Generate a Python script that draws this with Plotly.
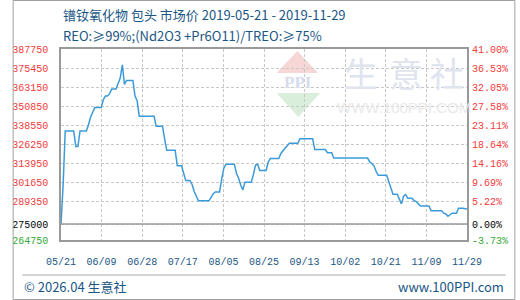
import pandas as pd
import plotly.graph_objects as go

# ---------------- data ----------------
START_DATE = "2019-05-21"
END_DATE = "2019-11-29"
DAY_OFFSETS = [0, 1, 2, 6, 7, 8, 9, 12, 13, 14, 15, 16, 19, 20, 21, 22, 23, 24, 26, 27,
               28, 29, 30, 31, 34, 35, 36, 37, 44, 45, 48, 49, 50, 54, 55, 57, 58, 59, 61, 62,
               63, 64, 65, 70, 71, 72, 73, 75, 76, 77, 78, 82, 83, 84, 85, 86, 87, 90, 91, 92,
               93, 94, 97, 98, 99, 103, 104, 105, 106, 107, 108, 112, 113, 119, 120, 125, 126, 128, 129, 145,
               146, 147, 148, 149, 150, 154, 155, 156, 157, 159, 160, 161, 162, 163, 164, 166, 167, 168, 169, 170,
               174, 175, 180, 181, 182, 183, 184, 185, 187, 188, 190, 191, 192]
PRICES = [275000, 300000, 335000, 335000, 325000, 325000, 335000, 335000, 339000, 344000,
          347000, 350000, 350000, 355000, 357500, 357500, 359000, 362000, 362000, 366000,
          369000, 377500, 365000, 367500, 367500, 357500, 354500, 344500, 344500, 338000,
          338000, 330000, 322500, 322500, 312500, 312500, 307500, 303000, 303000, 300500,
          296000, 292700, 290000, 290000, 292700, 294500, 295700, 295700, 304000, 311000,
          313500, 313500, 307500, 304500, 300000, 297000, 302000, 302000, 307000, 313000,
          313500, 309500, 309500, 315000, 317200, 317200, 320500, 322500, 324000, 325500,
          327000, 327000, 330000, 330000, 323000, 323000, 321000, 321000, 317500, 317500,
          315000, 314000, 312500, 309000, 306500, 306500, 302500, 298000, 294250, 294250,
          291000, 288000, 293000, 294000, 291600, 291600, 290000, 289500, 288000, 286700,
          286700, 283650, 283650, 282000, 281500, 280000, 281000, 282000, 282000, 285200,
          285200, 284750, 284750]

BASE_PRICE = 275000
Y_TICKS = [264750, 275000, 289350, 301650, 313950, 326250, 338550, 350850, 363150, 375450, 387750]
Y_LABELS = ["264750", "275000", "289350", "301650", "313950", "326250", "338550",
            "350850", "363150", "375450", "387750"]
PCT_LABELS = ["-3.73%", "0.00%", "5.22%", "9.69%", "14.16%", "18.64%", "23.11%",
              "27.58%", "32.05%", "36.53%", "41.00%"]
X_LABELS = ["05/21", "06/09", "06/28", "07/17", "08/05", "08/25", "09/13",
            "10/02", "10/21", "11/09", "11/29"]

TITLE = "镨钕氧化物 包头 市场价 2019-05-21 - 2019-11-29"
SUBTITLE = "REO:≥99%;(Nd2O3 +Pr6O11)/TREO:≥75%"
FOOT_LEFT = "© 2026.04 生意社"
FOOT_RIGHT = "www.100PPI.com"

# ---------------- styling ----------------
W, H = 520, 300
PL, PR, PT, PB = 50, 470, 49, 240   # plot area in pixels
RED, GREEN, BLACK = "#f23a3a", "#33aa33", "#000000"
BLUE_TXT = "#1a5685"
LINE_C = "#3b9bd8"
TICK_FONT = dict(family="Liberation Mono, DejaVu Sans Mono, monospace", size=10)
CN_FONT = "Noto Sans CJK SC, Noto Sans, sans-serif"


def fx(px):
    return (px - PL) / (PR - PL)


def fy(py):
    return (PB - py) / (PB - PT)


def colored(label, i):
    c = GREEN if i == 0 else (BLACK if i == 1 else RED)
    return f'<span style="color:{c}">{label}</span>'


start = pd.Timestamp(START_DATE)
end = pd.Timestamp(END_DATE)
dates = [start + pd.Timedelta(days=d) for d in DAY_OFFSETS]
span = end - start
x_ticks = [start + span * i / (len(X_LABELS) - 1) for i in range(len(X_LABELS))]

fig = go.Figure()
fig.add_trace(go.Scatter(x=dates, y=PRICES, mode="lines",
                         line=dict(color=LINE_C, width=1.5), hoverinfo="skip",
                         showlegend=False))
fig.add_trace(go.Scatter(x=[dates[0]], y=[PRICES[0]], yaxis="y2", mode="markers",
                         marker=dict(opacity=0), hoverinfo="skip", showlegend=False))

grid = dict(showgrid=True, gridcolor="#c8c8c8", gridwidth=1, griddash="3px,2px")

fig.update_layout(
    width=W, height=H,
    margin=dict(l=PL, r=W - PR, t=PT, b=H - PB),
    paper_bgcolor="white", plot_bgcolor="white",
    xaxis=dict(type="date", range=[start, end], tickvals=x_ticks, ticktext=X_LABELS,
               tickfont=dict(color=BLUE_TXT, **TICK_FONT), ticks="",
               ticklabelstandoff=11, zeroline=False,
               showline=True, linecolor="#999999", linewidth=1.5, mirror=True, **grid),
    yaxis=dict(range=[Y_TICKS[0], Y_TICKS[-1]], tickvals=Y_TICKS,
               ticktext=[colored(l, i) for i, l in enumerate(Y_LABELS)],
               tickfont=TICK_FONT, ticks="", ticklabelstandoff=9, zeroline=False,
               showline=True, linecolor="#999999", linewidth=1.5, mirror=True, **grid),
    yaxis2=dict(range=[Y_TICKS[0], Y_TICKS[-1]], overlaying="y", side="right",
                tickvals=Y_TICKS, ticktext=[colored(l, i) for i, l in enumerate(PCT_LABELS)],
                tickfont=TICK_FONT, ticks="", ticklabelstandoff=4, showgrid=False,
                zeroline=False, showline=False),
)

shapes = [
    # base-price solid line
    dict(type="line", xref="paper", yref="y", x0=0, x1=1, y0=BASE_PRICE, y1=BASE_PRICE,
         line=dict(color="#9a9a9a", width=1.5)),
    # outer frame
    dict(type="rect", xref="paper", yref="paper", x0=fx(0.5), x1=fx(W - 0.5),
         y0=fy(H - 0.5), y1=fy(0.5), line=dict(color="#a0a0a0", width=1)),
    # footer separator
    dict(type="line", xref="paper", yref="paper", x0=fx(10), x1=fx(510), y0=fy(275), y1=fy(275),
         line=dict(color="#a8a8a8", width=1)),
    # watermark logo triangles
    dict(type="path", xref="paper", yref="paper", layer="below",
         path=f"M {fx(273)} {fy(73)} L {fx(316)} {fy(73)} L {fx(294.5)} {fy(51)} Z",
         fillcolor="#f7d6d6", line=dict(width=0)),
    dict(type="path", xref="paper", yref="paper", layer="below",
         path=f"M {fx(273)} {fy(93)} L {fx(318)} {fy(93)} L {fx(295.5)} {fy(117)} Z",
         fillcolor="#d9eedb", line=dict(width=0)),
]
fig.update_layout(shapes=shapes)

ann = [
    dict(text=TITLE, x=fx(50), y=fy(15), xanchor="left", yanchor="middle",
         font=dict(family=CN_FONT, size=13, color=BLUE_TXT)),
    dict(text=SUBTITLE, x=fx(50), y=fy(35), xanchor="left", yanchor="middle",
         font=dict(family=CN_FONT, size=13, color=BLUE_TXT)),
    dict(text=FOOT_LEFT, x=fx(10), y=fy(286), xanchor="left", yanchor="middle",
         font=dict(family=CN_FONT, size=13, color=BLUE_TXT)),
    dict(text=FOOT_RIGHT, x=fx(510), y=fy(286), xanchor="right", yanchor="middle",
         font=dict(family=CN_FONT, size=13, color=BLUE_TXT)),
    # watermark
    dict(text="<b>PPI</b>", x=fx(295.5), y=fy(82), xanchor="center", yanchor="middle",
         font=dict(family="Liberation Serif, serif", size=17, color="#d6dceb")),
    dict(text="生", x=fx(360), y=fy(72), xanchor="center", yanchor="middle",
         font=dict(family=CN_FONT, size=34, color="#dfe4ee")),
    dict(text="意", x=fx(407), y=fy(72), xanchor="center", yanchor="middle",
         font=dict(family=CN_FONT, size=34, color="#dfe4ee")),
    dict(text="社", x=fx(449), y=fy(72), xanchor="center", yanchor="middle",
         font=dict(family=CN_FONT, size=34, color="#dfe4ee")),
    dict(text="WWW.100PPI.COM", x=fx(405), y=fy(107), xanchor="center", yanchor="middle",
         font=dict(family="Liberation Sans, sans-serif", size=15, color="#e9e9e9")),
]
for a in ann:
    a.update(xref="paper", yref="paper", showarrow=False)
fig.update_layout(annotations=ann)

fig.write_html("out.html")
